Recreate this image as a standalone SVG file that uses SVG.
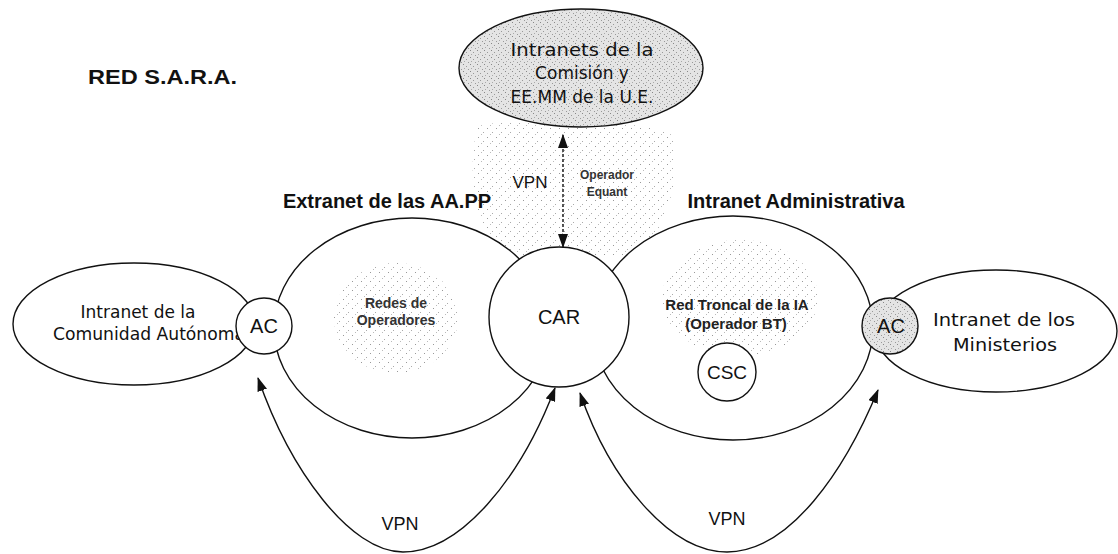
<svg xmlns="http://www.w3.org/2000/svg" width="1118" height="554" viewBox="0 0 1118 554">
<style>
.ln{fill:none;stroke:#111;stroke-width:1.4}
.wn{fill:#fff;stroke:#111;stroke-width:1.4}
.gn{fill:url(#dense);stroke:#111;stroke-width:1.4}
.blob{fill:url(#sparse);stroke:none}
.cm{font-family:"DejaVu Sans",sans-serif;font-size:17px;fill:#111;text-anchor:middle}
.ar{font-family:"Liberation Sans",Arial,sans-serif;fill:#111;text-anchor:middle}
.b{font-weight:bold}
</style>
<defs>
<marker id="ah" viewBox="0 0 14 10" refX="13" refY="5" markerWidth="14" markerHeight="10" markerUnits="userSpaceOnUse" orient="auto-start-reverse">
<path d="M0,0 L14,5 L0,10 Z" fill="#111"/>
</marker>
<pattern id="dense" width="7" height="7" patternUnits="userSpaceOnUse">
<rect width="7" height="7" fill="#e4e4e4"/>
<rect x="1" y="1" width="1" height="1" fill="#888"/>
<rect x="4" y="3" width="1" height="1" fill="#999"/>
<rect x="2" y="5" width="1" height="1" fill="#aaa"/>
<rect x="6" y="6" width="1" height="1" fill="#999"/>
</pattern>
<pattern id="sparse" width="9" height="9" patternUnits="userSpaceOnUse">
<rect x="1" y="2" width="1" height="1" fill="#999"/>
<rect x="6" y="6" width="1" height="1" fill="#aaa"/>
<rect x="4" y="8" width="1" height="1" fill="#bbb"/>
</pattern>
</defs>
<rect width="1118" height="554" fill="#fff"/>
<text x="88" y="84" class="ar b" style="text-anchor:start;font-size:20px" textLength="149" lengthAdjust="spacingAndGlyphs">RED S.A.R.A.</text>
<path class="blob" d="M478,126 C500,118 650,118 672,135 C685,170 665,240 632,256 L500,256 C470,220 468,160 478,126 Z"/>
<g id="left-intranet">
<ellipse class="wn" cx="134" cy="324" rx="121" ry="61"/>
<text class="cm" x="138" y="318">Intranet de la</text>
<text class="cm" x="149" y="340" textLength="192" lengthAdjust="spacingAndGlyphs">Comunidad Autónoma</text>
</g>
<g id="extranet">
<ellipse class="wn" cx="412" cy="328" rx="138" ry="110"/>
<ellipse class="blob" cx="396" cy="318" rx="62" ry="55"/>
<text class="ar b" x="396" y="308" style="font-size:14px;fill:#333">Redes de</text>
<text class="ar b" x="396" y="325" style="font-size:14px;fill:#333">Operadores</text>
<text class="ar b" x="387" y="208" style="font-size:20px">Extranet de las AA.PP</text>
</g>
<g id="intranet-admin">
<ellipse class="wn" cx="733" cy="328" rx="140" ry="112"/>
<ellipse class="blob" cx="740" cy="298" rx="78" ry="58"/>
<text class="ar b" x="737" y="310" style="font-size:15px;fill:#222">Red Troncal de la IA</text>
<text class="ar b" x="736" y="329" style="font-size:15px;fill:#222">(Operador BT)</text>
<text class="ar b" x="796" y="208" style="font-size:20px">Intranet Administrativa</text>
</g>
<g id="ministerios">
<ellipse class="wn" cx="996" cy="331" rx="121" ry="61"/>
<text class="cm" x="1004" y="326" textLength="142" lengthAdjust="spacingAndGlyphs">Intranet de los</text>
<text class="cm" x="1005" y="351" textLength="104" lengthAdjust="spacingAndGlyphs">Ministerios</text>
</g>
<g id="ac-left">
<circle class="wn" cx="264" cy="326" r="28"/>
<text class="ar" x="264" y="333" style="font-size:20px">AC</text>
</g>
<g id="ac-right">
<circle class="gn" cx="890" cy="326" r="28"/>
<text class="ar" x="891" y="333" style="font-size:20px">AC</text>
</g>
<g id="car">
<circle class="wn" cx="559" cy="317" r="70"/>
<text class="ar" x="559" y="324" style="font-size:20px">CAR</text>
</g>
<g id="csc">
<circle class="wn" cx="727" cy="372" r="29"/>
<text class="ar" x="727" y="379" style="font-size:19px">CSC</text>
</g>
<g id="ue">
<ellipse class="gn" cx="581" cy="68" rx="122" ry="59"/>
<text class="cm" x="582" y="56" textLength="143" lengthAdjust="spacingAndGlyphs">Intranets de la</text>
<text class="cm" x="582" y="79">Comisión y</text>
<text class="cm" x="582" y="103">EE.MM de la U.E.</text>
</g>
<g id="connectors">
<line class="ln" x1="563" y1="247" x2="563" y2="135" stroke-dasharray="3 2" marker-start="url(#ah)" marker-end="url(#ah)"/>
<text class="ar" x="530" y="188" style="font-size:17px">VPN</text>
<text class="ar b" x="607" y="179" style="font-size:12px;fill:#333">Operador</text>
<text class="ar b" x="607" y="196" style="font-size:12px;fill:#333">Equant</text>
<path class="ln" d="M403,552 C350,552 290,470 258,378" marker-end="url(#ah)"/>
<path class="ln" d="M403,552 C460,552 520,480 555,388" marker-end="url(#ah)"/>
<text class="ar" x="400" y="530" style="font-size:18px">VPN</text>
<path class="ln" d="M727,552 C670,552 610,480 580,393" marker-end="url(#ah)"/>
<path class="ln" d="M727,552 C790,552 845,470 878,390" marker-end="url(#ah)"/>
<text class="ar" x="727" y="525" style="font-size:18px">VPN</text>
</g>
</svg>
